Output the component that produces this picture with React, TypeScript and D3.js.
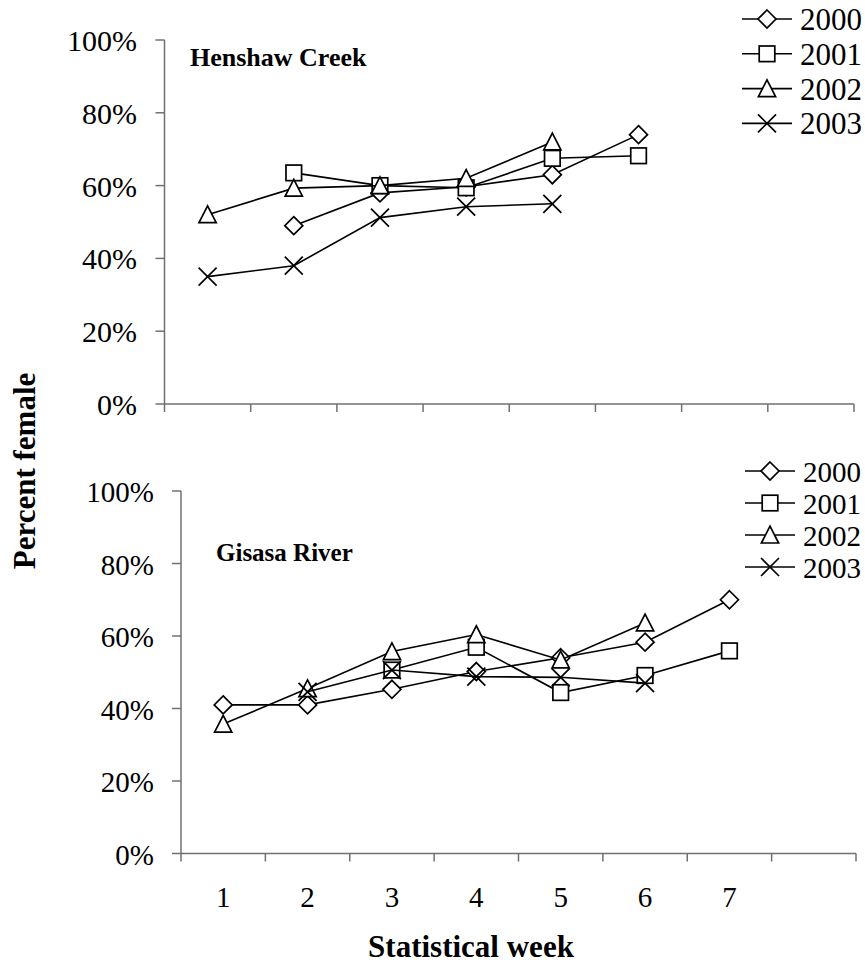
import React from 'react';
import * as d3 from 'd3';

const weekSlots = ['1', '2', '3', '4', '5', '6', '7', '8'];
const weekLabels = ['1', '2', '3', '4', '5', '6', '7'];
const years = ['2000', '2001', '2002', '2003'];
const markerTypes = ['diamond', 'square', 'triangle', 'cross'];
const yTicks = [0, 20, 40, 60, 80, 100];

const henshaw2000 = [null, 49, 58, 59.7, 63, 74, null];
const henshaw2001 = [null, 63.5, 60, 59.4, 67.5, 68.2, null];
const henshaw2002 = [52, 59.3, 60, 62, 72, null, null];
const henshaw2003 = [35, 38, 51.2, 54.2, 55, null, null];

const gisasa2000 = [41, 41, 45.3, 50.2, 54, 58.3, 70];
const gisasa2001 = [null, null, 50.6, 56.9, 44.4, 49.1, 55.9];
const gisasa2002 = [35.7, 45.5, 55.7, 60.4, 53.4, 63.6, null];
const gisasa2003 = [null, 44.6, 50.6, 48.8, 48.6, 47, null];

const FONT = '"Liberation Serif", "Times New Roman", serif';
const AXIS = '#707070';

type Val = number | null;

function Marker({ type, cx, cy }: { type: string; cx: number; cy: number }) {
  const common = { fill: '#fff', stroke: '#000', strokeWidth: 1.7 };
  if (type === 'diamond') {
    return <path d={`M${cx},${cy - 9}L${cx + 9},${cy}L${cx},${cy + 9}L${cx - 9},${cy}Z`} {...common} />;
  }
  if (type === 'square') {
    return <rect x={cx - 7.8} y={cy - 7.8} width={15.6} height={15.6} {...common} />;
  }
  if (type === 'triangle') {
    return <path d={`M${cx},${cy - 8.8}L${cx + 8.6},${cy + 8}L${cx - 8.6},${cy + 8}Z`} {...common} />;
  }
  return (
    <g stroke="#000" strokeWidth={1.7}>
      <line x1={cx - 9} y1={cy - 9} x2={cx + 9} y2={cy + 9} />
      <line x1={cx - 9} y1={cy + 9} x2={cx + 9} y2={cy - 9} />
    </g>
  );
}

function Panel({
  series, title, titleX, titleY, titleSize, x0, x1, y0, y1, labelRight, tickFont,
  legX, legY, legStep, legFont, showXLabels,
}: {
  series: Val[][]; title: string; titleX: number; titleY: number; titleSize: number;
  x0: number; x1: number; y0: number; y1: number; labelRight: number; tickFont: number;
  legX: number; legY: number; legStep: number; legFont: number; showXLabels: boolean;
}) {
  const x = d3.scaleBand<string>().domain(weekSlots).range([x0, x1]).padding(0);
  const y = d3.scaleLinear().domain([0, 100]).range([y0, y1]);
  const bw = x.bandwidth();
  const cx = (i: number) => (x(weekSlots[i]) as number) + bw / 2;
  const line = d3
    .line<Val>()
    .defined((d) => d !== null)
    .x((_, i) => cx(i))
    .y((d) => y(d as number));

  const tickXs = weekSlots.map((w) => x(w) as number).concat([x1]);

  return (
    <g>
      {/* axes */}
      <line x1={x0} y1={y(0)} x2={x1} y2={y(0)} stroke={AXIS} strokeWidth={1.5} />
      <line x1={x0} y1={y(0)} x2={x0} y2={y(100)} stroke={AXIS} strokeWidth={1.5} />
      {yTicks.map((t) => (
        <g key={t}>
          <line x1={x0 - 9} x2={x0} y1={y(t)} y2={y(t)} stroke={AXIS} strokeWidth={1.5} />
          <text x={labelRight} y={y(t) + 11} textAnchor="end" fontSize={tickFont} fontFamily={FONT}>
            {t}%
          </text>
        </g>
      ))}
      {tickXs.map((tx, i) => (
        <line key={i} x1={tx} x2={tx} y1={y(0)} y2={y(0) + 8} stroke={AXIS} strokeWidth={1.5} />
      ))}
      {showXLabels &&
        weekLabels.map((w, i) => (
          <text key={w} x={cx(i)} y={907} textAnchor="middle" fontSize={29} fontFamily={FONT}>
            {w}
          </text>
        ))}
      {/* title */}
      <text x={titleX} y={titleY} fontSize={titleSize} fontWeight="bold" fontFamily={FONT}>
        {title}
      </text>
      {/* series */}
      {series.map((vals, si) => (
        <g key={si}>
          <path d={line(vals) || ''} fill="none" stroke="#000" strokeWidth={1.6} />
          {vals.map((v, i) =>
            v === null ? null : <Marker key={i} type={markerTypes[si]} cx={cx(i)} cy={y(v)} />
          )}
        </g>
      ))}
      {/* legend */}
      {years.map((yr, i) => {
        const ly = legY + i * legStep;
        return (
          <g key={yr}>
            <line x1={legX} x2={legX + 50} y1={ly} y2={ly} stroke="#000" strokeWidth={1.6} />
            <Marker type={markerTypes[i]} cx={legX + 25} cy={ly} />
            <text x={legX + 58} y={ly + 11} fontSize={legFont} fontFamily={FONT}>
              {yr}
            </text>
          </g>
        );
      })}
    </g>
  );
}

export default function App() {
  return (
    <svg
      width={865}
      height={964}
      style={{ position: 'absolute', left: 0, top: 0, background: '#fff' }}
    >
      <rect width={865} height={964} fill="#fff" />
      <Panel
        series={[henshaw2000, henshaw2001, henshaw2002, henshaw2003]}
        title="Henshaw Creek"
        titleX={190}
        titleY={66}
        titleSize={26}
        x0={164.5}
        x1={854}
        y0={404}
        y1={40}
        labelRight={137}
        tickFont={30}
        legX={742}
        legY={19}
        legStep={34.8}
        legFont={31}
        showXLabels={false}
      />
      <Panel
        series={[gisasa2000, gisasa2001, gisasa2002, gisasa2003]}
        title="Gisasa River"
        titleX={216}
        titleY={561}
        titleSize={25}
        x0={181}
        x1={856}
        y0={853.5}
        y1={491}
        labelRight={154}
        tickFont={29}
        legX={745}
        legY={471}
        legStep={32}
        legFont={29}
        showXLabels={true}
      />
      <text
        transform="translate(35,471) rotate(-90)"
        textAnchor="middle"
        fontSize={31}
        fontWeight="bold"
        fontFamily={FONT}
      >
        Percent female
      </text>
      <text x={471} y={957} textAnchor="middle" fontSize={31} fontWeight="bold" fontFamily={FONT}>
        Statistical week
      </text>
    </svg>
  );
}
